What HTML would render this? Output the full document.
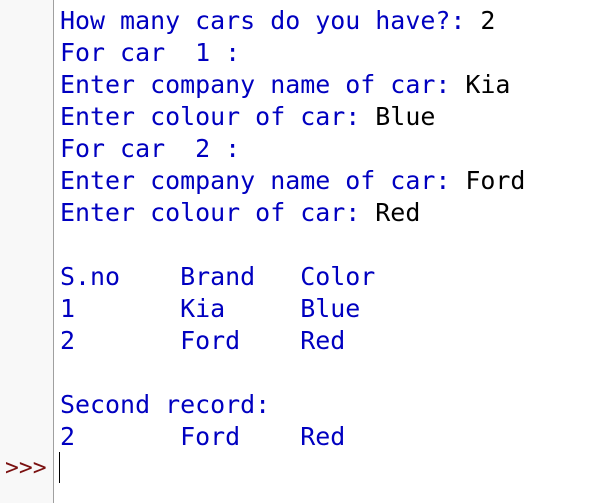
<!DOCTYPE html>
<html><head><style>
html,body{margin:0;padding:0;width:603px;height:503px;background:#fff;overflow:hidden}
.g{position:absolute;left:0;top:0;width:53px;height:503px;background:#f8f8f8;border-right:1px solid #a0a0a0}
pre{position:absolute;left:60px;top:5px;margin:0;font-family:"DejaVu Sans Mono","Liberation Mono",monospace;font-size:24.95px;line-height:32px;color:#0000c0}
.k{color:#000}
.p{position:absolute;left:5px;top:454px;font-family:"DejaVu Sans Mono",monospace;font-size:23px;line-height:28px;color:#7a1010}
.c{position:absolute;left:59px;top:452px;width:1px;height:31px;background:#000}
</style></head><body>
<div class="g"></div>
<pre>How many cars do you have?: <span class="k">2</span>
For car  1 :
Enter company name of car: <span class="k">Kia</span>
Enter colour of car: <span class="k">Blue</span>
For car  2 :
Enter company name of car: <span class="k">Ford</span>
Enter colour of car: <span class="k">Red</span>

S.no    Brand   Color
1       Kia     Blue
2       Ford    Red

Second record:
2       Ford    Red</pre>
<div class="p">&gt;&gt;&gt;</div>
<div class="c"></div>
</body></html>
